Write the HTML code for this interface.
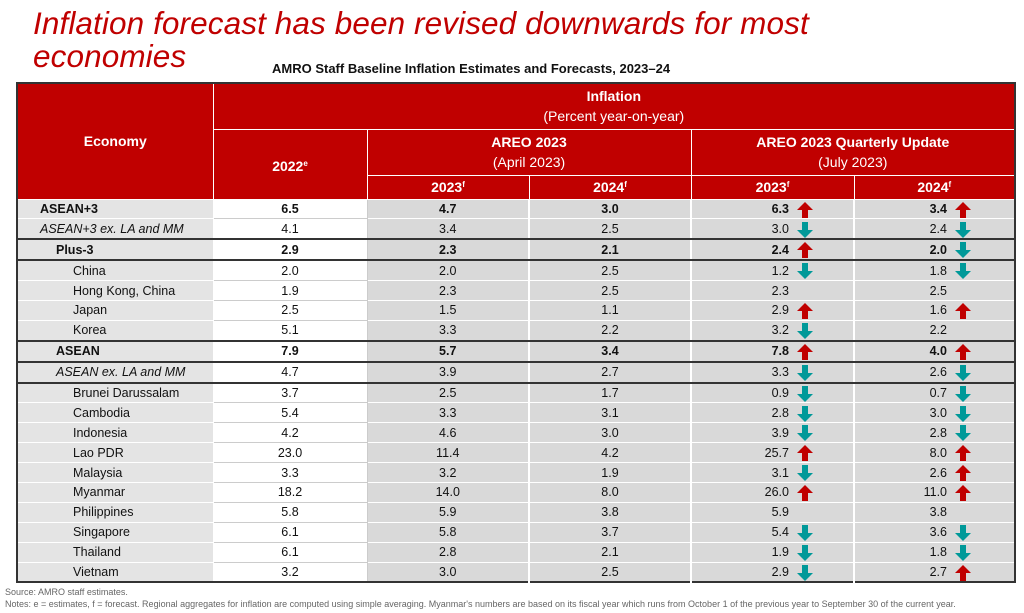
<!DOCTYPE html>
<html><head><meta charset="utf-8"><style>
body{margin:0;width:1024px;height:613px;background:#fff;position:relative;overflow:hidden;font-family:"Liberation Sans",Arial,sans-serif;}
.t1{position:absolute;left:33px;top:7px;font-size:31.5px;font-style:italic;color:#c00000;line-height:33px;white-space:nowrap;letter-spacing:0.1px}
.sub{position:absolute;left:272px;top:61px;font-size:13px;font-weight:bold;color:#111;white-space:nowrap}
table{position:absolute;left:16px;top:82px;border-collapse:collapse;table-layout:fixed;width:998px;border:2px solid #333;font-size:12.5px;color:#111}
th{background:#c00000;color:#fff;font-weight:bold;border:1.5px solid #fff;padding:0;font-size:14px;line-height:20px}
th .n{font-weight:normal}
sup{font-size:8px;vertical-align:top;position:relative;top:-2px}
td{height:18.9px;padding:0;text-align:center;border-bottom:1px solid #fff;line-height:18px}
td.e{background:#e4e4e4;text-align:left;padding-left:18px;border-right:1px solid #fff}
td.w{background:#fff;border-bottom:1px solid #ccc;border-right:1px solid #ccc}
td.g{background:#d9d9d9;border-right:2px solid #fff}
td.q{background:#d9d9d9;text-align:left;border-right:2px solid #fff}
td.q2{border-right:2px solid #333}
td.q span{display:inline-block;width:97px;text-align:right}
td.q2 span{width:92px}
tr.b td{font-weight:bold}
tr.i td.e{font-style:italic}
tr.k td{border-bottom:2px solid #333}
.e1{padding-left:22px!important}
.e2{padding-left:38px!important}
.e3{padding-left:55px!important}
.ft{position:absolute;left:5px;font-size:9px;color:#666;white-space:nowrap}
svg{vertical-align:middle;margin-left:8px}
</style></head><body>
<div class="t1">Inflation forecast has been revised downwards for most<br>economies</div>
<div class="sub">AMRO Staff Baseline Inflation Estimates and Forecasts, 2023–24</div>
<table>
<colgroup><col style="width:196px"><col style="width:154px"><col style="width:162px"><col style="width:162px"><col style="width:163px"><col style="width:161px"></colgroup>
<tr style="height:46px"><th rowspan="3" style="vertical-align:middle;padding-bottom:0">Economy</th><th colspan="5">Inflation<br><span class="n">(Percent year-on-year)</span></th></tr>
<tr style="height:46px"><th rowspan="2" style="padding-top:4px">2022<sup>e</sup></th><th colspan="2">AREO 2023<br><span class="n">(April 2023)</span></th><th colspan="2">AREO 2023 Quarterly Update<br><span class="n">(July 2023)</span></th></tr>
<tr style="height:24px"><th>2023<sup>f</sup></th><th>2024<sup>f</sup></th><th>2023<sup>f</sup></th><th>2024<sup>f</sup></th></tr>
<tr class="b" style="border-bottom:1.5px solid #333"><td class="e e1">ASEAN+3</td><td class="w">6.5</td><td class="g">4.7</td><td class="g">3.0</td><td class="q"><span>6.3</span><svg width="16" height="16"><polygon points="8,0 16,8 11,8 11,16 5,16 5,8 0,8" fill="#c00000"/></svg></td><td class="q q2"><span>3.4</span><svg width="16" height="16"><polygon points="8,0 16,8 11,8 11,16 5,16 5,8 0,8" fill="#c00000"/></svg></td></tr>
<tr class="i k"><td class="e e1">ASEAN+3 ex. LA and MM</td><td class="w">4.1</td><td class="g">3.4</td><td class="g">2.5</td><td class="q"><span>3.0</span><svg width="16" height="16"><polygon points="8,16 16,8 11,8 11,0 5,0 5,8 0,8" fill="#009999"/></svg></td><td class="q q2"><span>2.4</span><svg width="16" height="16"><polygon points="8,16 16,8 11,8 11,0 5,0 5,8 0,8" fill="#009999"/></svg></td></tr>
<tr class="b k"><td class="e e2">Plus-3</td><td class="w">2.9</td><td class="g">2.3</td><td class="g">2.1</td><td class="q"><span>2.4</span><svg width="16" height="16"><polygon points="8,0 16,8 11,8 11,16 5,16 5,8 0,8" fill="#c00000"/></svg></td><td class="q q2"><span>2.0</span><svg width="16" height="16"><polygon points="8,16 16,8 11,8 11,0 5,0 5,8 0,8" fill="#009999"/></svg></td></tr>
<tr><td class="e e3">China</td><td class="w">2.0</td><td class="g">2.0</td><td class="g">2.5</td><td class="q"><span>1.2</span><svg width="16" height="16"><polygon points="8,16 16,8 11,8 11,0 5,0 5,8 0,8" fill="#009999"/></svg></td><td class="q q2"><span>1.8</span><svg width="16" height="16"><polygon points="8,16 16,8 11,8 11,0 5,0 5,8 0,8" fill="#009999"/></svg></td></tr>
<tr><td class="e e3">Hong Kong, China</td><td class="w">1.9</td><td class="g">2.3</td><td class="g">2.5</td><td class="q"><span>2.3</span></td><td class="q q2"><span>2.5</span></td></tr>
<tr><td class="e e3">Japan</td><td class="w">2.5</td><td class="g">1.5</td><td class="g">1.1</td><td class="q"><span>2.9</span><svg width="16" height="16"><polygon points="8,0 16,8 11,8 11,16 5,16 5,8 0,8" fill="#c00000"/></svg></td><td class="q q2"><span>1.6</span><svg width="16" height="16"><polygon points="8,0 16,8 11,8 11,16 5,16 5,8 0,8" fill="#c00000"/></svg></td></tr>
<tr class="k"><td class="e e3">Korea</td><td class="w">5.1</td><td class="g">3.3</td><td class="g">2.2</td><td class="q"><span>3.2</span><svg width="16" height="16"><polygon points="8,16 16,8 11,8 11,0 5,0 5,8 0,8" fill="#009999"/></svg></td><td class="q q2"><span>2.2</span></td></tr>
<tr class="b k"><td class="e e2">ASEAN</td><td class="w">7.9</td><td class="g">5.7</td><td class="g">3.4</td><td class="q"><span>7.8</span><svg width="16" height="16"><polygon points="8,0 16,8 11,8 11,16 5,16 5,8 0,8" fill="#c00000"/></svg></td><td class="q q2"><span>4.0</span><svg width="16" height="16"><polygon points="8,0 16,8 11,8 11,16 5,16 5,8 0,8" fill="#c00000"/></svg></td></tr>
<tr class="i k"><td class="e e2">ASEAN ex. LA and MM</td><td class="w">4.7</td><td class="g">3.9</td><td class="g">2.7</td><td class="q"><span>3.3</span><svg width="16" height="16"><polygon points="8,16 16,8 11,8 11,0 5,0 5,8 0,8" fill="#009999"/></svg></td><td class="q q2"><span>2.6</span><svg width="16" height="16"><polygon points="8,16 16,8 11,8 11,0 5,0 5,8 0,8" fill="#009999"/></svg></td></tr>
<tr><td class="e e3">Brunei Darussalam</td><td class="w">3.7</td><td class="g">2.5</td><td class="g">1.7</td><td class="q"><span>0.9</span><svg width="16" height="16"><polygon points="8,16 16,8 11,8 11,0 5,0 5,8 0,8" fill="#009999"/></svg></td><td class="q q2"><span>0.7</span><svg width="16" height="16"><polygon points="8,16 16,8 11,8 11,0 5,0 5,8 0,8" fill="#009999"/></svg></td></tr>
<tr><td class="e e3">Cambodia</td><td class="w">5.4</td><td class="g">3.3</td><td class="g">3.1</td><td class="q"><span>2.8</span><svg width="16" height="16"><polygon points="8,16 16,8 11,8 11,0 5,0 5,8 0,8" fill="#009999"/></svg></td><td class="q q2"><span>3.0</span><svg width="16" height="16"><polygon points="8,16 16,8 11,8 11,0 5,0 5,8 0,8" fill="#009999"/></svg></td></tr>
<tr><td class="e e3">Indonesia</td><td class="w">4.2</td><td class="g">4.6</td><td class="g">3.0</td><td class="q"><span>3.9</span><svg width="16" height="16"><polygon points="8,16 16,8 11,8 11,0 5,0 5,8 0,8" fill="#009999"/></svg></td><td class="q q2"><span>2.8</span><svg width="16" height="16"><polygon points="8,16 16,8 11,8 11,0 5,0 5,8 0,8" fill="#009999"/></svg></td></tr>
<tr><td class="e e3">Lao PDR</td><td class="w">23.0</td><td class="g">11.4</td><td class="g">4.2</td><td class="q"><span>25.7</span><svg width="16" height="16"><polygon points="8,0 16,8 11,8 11,16 5,16 5,8 0,8" fill="#c00000"/></svg></td><td class="q q2"><span>8.0</span><svg width="16" height="16"><polygon points="8,0 16,8 11,8 11,16 5,16 5,8 0,8" fill="#c00000"/></svg></td></tr>
<tr><td class="e e3">Malaysia</td><td class="w">3.3</td><td class="g">3.2</td><td class="g">1.9</td><td class="q"><span>3.1</span><svg width="16" height="16"><polygon points="8,16 16,8 11,8 11,0 5,0 5,8 0,8" fill="#009999"/></svg></td><td class="q q2"><span>2.6</span><svg width="16" height="16"><polygon points="8,0 16,8 11,8 11,16 5,16 5,8 0,8" fill="#c00000"/></svg></td></tr>
<tr><td class="e e3">Myanmar</td><td class="w">18.2</td><td class="g">14.0</td><td class="g">8.0</td><td class="q"><span>26.0</span><svg width="16" height="16"><polygon points="8,0 16,8 11,8 11,16 5,16 5,8 0,8" fill="#c00000"/></svg></td><td class="q q2"><span>11.0</span><svg width="16" height="16"><polygon points="8,0 16,8 11,8 11,16 5,16 5,8 0,8" fill="#c00000"/></svg></td></tr>
<tr><td class="e e3">Philippines</td><td class="w">5.8</td><td class="g">5.9</td><td class="g">3.8</td><td class="q"><span>5.9</span></td><td class="q q2"><span>3.8</span></td></tr>
<tr><td class="e e3">Singapore</td><td class="w">6.1</td><td class="g">5.8</td><td class="g">3.7</td><td class="q"><span>5.4</span><svg width="16" height="16"><polygon points="8,16 16,8 11,8 11,0 5,0 5,8 0,8" fill="#009999"/></svg></td><td class="q q2"><span>3.6</span><svg width="16" height="16"><polygon points="8,16 16,8 11,8 11,0 5,0 5,8 0,8" fill="#009999"/></svg></td></tr>
<tr><td class="e e3">Thailand</td><td class="w">6.1</td><td class="g">2.8</td><td class="g">2.1</td><td class="q"><span>1.9</span><svg width="16" height="16"><polygon points="8,16 16,8 11,8 11,0 5,0 5,8 0,8" fill="#009999"/></svg></td><td class="q q2"><span>1.8</span><svg width="16" height="16"><polygon points="8,16 16,8 11,8 11,0 5,0 5,8 0,8" fill="#009999"/></svg></td></tr>
<tr><td class="e e3">Vietnam</td><td class="w">3.2</td><td class="g">3.0</td><td class="g">2.5</td><td class="q"><span>2.9</span><svg width="16" height="16"><polygon points="8,16 16,8 11,8 11,0 5,0 5,8 0,8" fill="#009999"/></svg></td><td class="q q2"><span>2.7</span><svg width="16" height="16"><polygon points="8,0 16,8 11,8 11,16 5,16 5,8 0,8" fill="#c00000"/></svg></td></tr>
</table>
<div class="ft" style="top:587px">Source: AMRO staff estimates.</div>
<div class="ft" style="top:599px">Notes: e = estimates, f = forecast. Regional aggregates for inflation are computed using simple averaging. Myanmar's numbers are based on its fiscal year which runs from October 1 of the previous year to September 30 of the current year.</div>
</body></html>
